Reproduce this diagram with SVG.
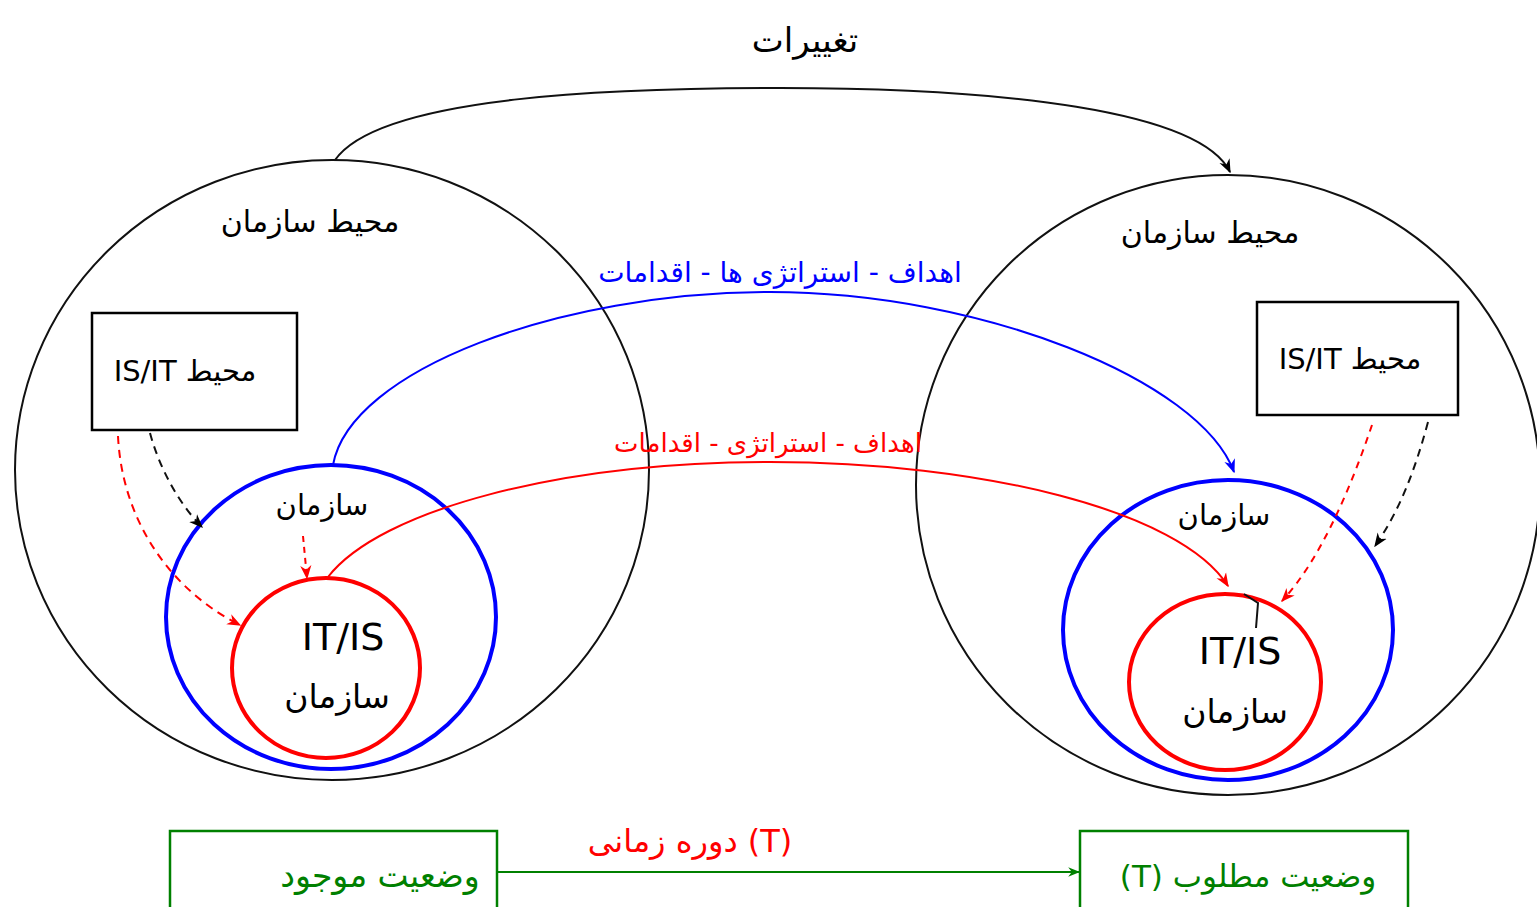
<svg xmlns="http://www.w3.org/2000/svg" width="1537" height="907" viewBox="0 0 1537 907">
<style>
.fa{font-family:"DejaVu Sans","Noto Sans",sans-serif;}
.rtl{direction:rtl;}
.big{fill:none;stroke:#111;stroke-width:2;}
.box{fill:#fff;stroke:#000;stroke-width:2.5;}
.bc{fill:none;stroke:#0000ff;stroke-width:4;}
.rc{fill:none;stroke:#ff0000;stroke-width:4;}
.gbox{fill:#fff;stroke:#008000;stroke-width:2.5;}
.k{fill:#000;}
</style>
<defs>
<marker id="ak" viewBox="0 0 10 10" refX="9" refY="5" markerWidth="7" markerHeight="7" orient="auto"><path d="M0,1 L10,5 L0,9 L3,5 Z" fill="#000"/></marker>
<marker id="ab" viewBox="0 0 10 10" refX="9" refY="5" markerWidth="7" markerHeight="7" orient="auto"><path d="M0,1 L10,5 L0,9 L3,5 Z" fill="#0000ff"/></marker>
<marker id="ar" viewBox="0 0 10 10" refX="9" refY="5" markerWidth="7" markerHeight="7" orient="auto"><path d="M0,1 L10,5 L0,9 L3,5 Z" fill="#ff0000"/></marker>
<marker id="ag" viewBox="0 0 10 10" refX="9" refY="5" markerWidth="6" markerHeight="6" orient="auto"><path d="M0,1 L10,5 L0,9 L3,5 Z" fill="#008000"/></marker>
</defs>

<g id="left-env">
<ellipse class="big" cx="332" cy="470" rx="317" ry="310"/>
<text class="fa rtl k" x="310" y="232" font-size="30" text-anchor="middle">محیط سازمان</text>
</g>
<g id="right-env">
<ellipse class="big" cx="1228" cy="485" rx="312" ry="310"/>
<text class="fa rtl k" x="1210" y="243" font-size="30" text-anchor="middle">محیط سازمان</text>
</g>

<g id="left-isit-box">
<rect class="box" x="92" y="313" width="205" height="117"/>
<text class="fa rtl k" x="185" y="381" font-size="29" text-anchor="middle">محیط IS/IT</text>
</g>
<g id="right-isit-box">
<rect class="box" x="1257" y="302" width="201" height="113"/>
<text class="fa rtl k" x="1350" y="369" font-size="29" text-anchor="middle">محیط IS/IT</text>
</g>

<g id="left-org">
<ellipse class="bc" cx="331" cy="617" rx="165" ry="152"/>
<text class="fa rtl k" x="322" y="515" font-size="29" text-anchor="middle">سازمان</text>
</g>
<g id="right-org">
<ellipse class="bc" cx="1228" cy="630" rx="165" ry="150"/>
<text class="fa rtl k" x="1224" y="525" font-size="29" text-anchor="middle">سازمان</text>
</g>

<g id="left-org-itis">
<ellipse class="rc" cx="326" cy="668" rx="94" ry="90"/>
<text class="fa k" x="343" y="650" font-size="38" text-anchor="middle">IT/IS</text>
<text class="fa rtl k" x="337" y="708" font-size="33" text-anchor="middle">سازمان</text>
</g>
<g id="right-org-itis">
<ellipse class="rc" cx="1225" cy="682" rx="96" ry="88"/>
<text class="fa k" x="1240" y="664" font-size="38" text-anchor="middle">IT/IS</text>
<text class="fa rtl k" x="1235" y="723" font-size="33" text-anchor="middle">سازمان</text>
</g>

<g id="current-state">
<rect class="gbox" x="170" y="831" width="327" height="90"/>
<text class="fa rtl" x="380" y="887" font-size="33" fill="#008000" text-anchor="middle">وضعیت موجود</text>
</g>
<g id="desired-state">
<rect class="gbox" x="1080" y="831" width="328" height="90"/>
<text class="fa rtl" x="1248" y="887" font-size="31" fill="#008000" text-anchor="middle">وضعیت مطلوب (T)</text>
</g>

<g id="labels">
<text class="fa rtl k" x="805" y="52" font-size="34" text-anchor="middle">تغییرات</text>
<text class="fa rtl" x="780" y="282" font-size="28" fill="#0000ff" text-anchor="middle">اهداف - استراتژی ها - اقدامات</text>
<text class="fa rtl" x="768" y="452" font-size="26" fill="#ff0000" text-anchor="middle">اهداف - استراتژی - اقدامات</text>
<text class="fa" x="690" y="852" font-size="32" fill="#ff0000" text-anchor="middle">دوره زمانی (T)</text>
</g>

<g id="connectors" fill="none">
<path d="M335,160 C380,95 620,88 780,88 C1000,88 1200,110 1230,172" stroke="#111" stroke-width="2" marker-end="url(#ak)"/>
<path d="M333,465 C350,370 560,292 770,292 C980,292 1200,380 1234,472" stroke="#0000ff" stroke-width="2" marker-end="url(#ab)"/>
<path d="M328,577 C380,510 560,462 770,462 C980,462 1180,510 1228,586" stroke="#ff0000" stroke-width="2" marker-end="url(#ar)"/>
<path d="M150,433 C160,470 180,505 202,527" stroke="#111" stroke-width="2" stroke-dasharray="8,6" marker-end="url(#ak)"/>
<path d="M118,436 C122,520 170,590 240,625" stroke="#ff0000" stroke-width="2" stroke-dasharray="8,6" marker-end="url(#ar)"/>
<path d="M303,536 L307,578" stroke="#ff0000" stroke-width="2" stroke-dasharray="6,5" marker-end="url(#ar)"/>
<path d="M1428,422 C1415,470 1400,510 1375,546" stroke="#111" stroke-width="2" stroke-dasharray="8,6" marker-end="url(#ak)"/>
<path d="M1372,425 C1350,490 1320,560 1282,601" stroke="#ff0000" stroke-width="2" stroke-dasharray="7,6" marker-end="url(#ar)"/>
<path d="M1244,594 L1258,603 L1256,628" stroke="#111" stroke-width="2"/>
<path d="M498,872 L1079,872" stroke="#008000" stroke-width="2" marker-end="url(#ag)"/>
</g>
</svg>
